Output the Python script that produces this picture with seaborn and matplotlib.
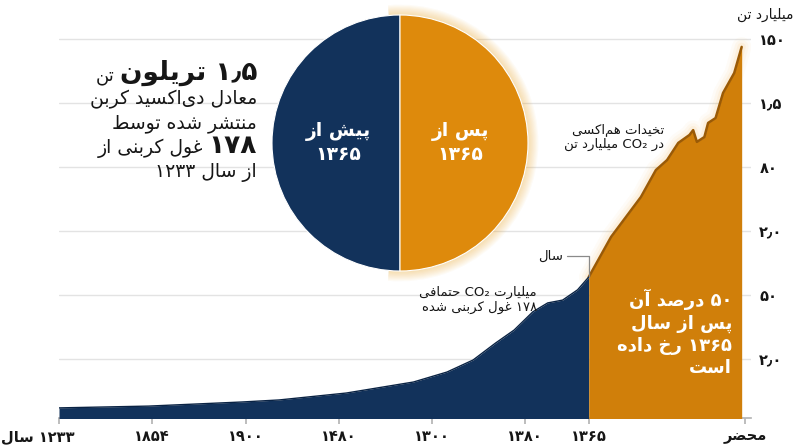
import matplotlib
matplotlib.use("Agg")
import matplotlib.pyplot as plt
import seaborn as sns
import pandas as pd
from matplotlib.patches import Wedge
from matplotlib.transforms import ScaledTranslation

# Data (cumulative CO2, billion tonnes)
years = [1850, 1874, 1899, 1909, 1927, 1945, 1954, 1961, 1967, 1972, 1977, 1981, 1985,
         1989, 1992, 1998, 2006, 2010, 2013, 2016, 2019, 2020, 2021, 2023, 2024, 2026,
         2028, 2031, 2033]
emissions = [59, 66, 82, 90, 117, 160, 199, 246, 312, 363, 434, 469, 480,
             520, 570, 727, 883, 988, 1027, 1094, 1125, 1144, 1098, 1117, 1172, 1191,
             1289, 1367, 1469]
split_year = 1992

x_ticks = [1850, 1875, 1900, 1925, 1950, 1975, 1992, 2034]
x_labels = ["۱۲۳۳ سال", "۱۸۵۴", "۱۹۰۰", "۱۴۸۰", "۱۳۰۰", "۱۳۸۰", "۱۳۶۵", "محضر"]
y_ticks = [250, 500, 750, 1000, 1250, 1500]
y_labels = ["۲٫۰", "۵۰", "۲٫۰", "۸۰", "۱٫۵", "۱۵۰"]

pie_shares = [50, 50]
pie_labels = ["پیش از\n۱۳۶۵", "پس از\n۱۳۶۵"]

# Colours
navy = "#12325b"
orange = "#d07f0a"
circle_orange = "#de8a0c"
glow = "#f5a623"
edge = "#9a5a06"
ink = "#161616"

# --- tiny Persian shaper + bidi (matplotlib has no complex text layout) ---
DUAL = {"ب": 0xFE8F, "پ": 0xFB56, "ت": 0xFE95, "ث": 0xFE99, "ج": 0xFE9D, "چ": 0xFB7A,
        "ح": 0xFEA1, "خ": 0xFEA5, "س": 0xFEB1, "ش": 0xFEB5, "ص": 0xFEB9, "ض": 0xFEBD,
        "ط": 0xFEC1, "ظ": 0xFEC5, "ع": 0xFEC9, "غ": 0xFECD, "ف": 0xFED1, "ق": 0xFED5,
        "ک": 0xFB8E, "گ": 0xFB92, "ل": 0xFEDD, "م": 0xFEE1, "ن": 0xFEE5, "ه": 0xFEE9,
        "ی": 0xFBFC}
RIGHT = {"ا": 0xFE8D, "آ": 0xFE81, "د": 0xFEA9, "ذ": 0xFEAB, "ر": 0xFEAD, "ز": 0xFEAF,
         "ژ": 0xFB8A, "و": 0xFEED}
FORMS = {**DUAL, **RIGHT}


def shape(text):
    out = []
    for i, c in enumerate(text):
        if c == "\u200c":
            continue
        if c not in FORMS:
            out.append(c)
            continue
        prev = text[i - 1] if i > 0 else ""
        nxt = text[i + 1] if i + 1 < len(text) else ""
        p = prev in DUAL
        n = c in DUAL and nxt in FORMS
        k = 3 if (p and n) else 1 if p else 2 if n else 0
        out.append(chr(FORMS[c] + k))
    return "".join(out)


def is_ltr(ch):
    return (ch.isascii() and ch.isalnum()) or ("\u06f0" <= ch <= "\u06f9") or ch in "₂٫"


def fa_line(text):
    runs = []
    for ch in shape(text):
        l = is_ltr(ch)
        if runs and runs[-1][0] == l:
            runs[-1][1] += ch
        else:
            runs.append([l, ch])
    return "".join(r[1] if r[0] else r[1][::-1] for r in reversed(runs))


def fa(text):
    return "\n".join(fa_line(t) for t in text.split("\n"))


# --- figure ---
sns.set_theme(style="white")
plt.rcParams["font.family"] = ["DejaVu Sans"]

W, H = 800, 447
fig = plt.figure(figsize=(8, 4.47), dpi=100)
ax = fig.add_axes([59 / W, 1 - 418 / H, (751 - 59) / W, (418 - 30) / H])
ax.set_xlim(1850, 2035.5)
ax.set_ylim(19.5, 1535)

df = pd.DataFrame({"year": years, "value": emissions})
before = df[df["year"] <= split_year]
after = df[df["year"] >= split_year]

ax.fill_between(before["year"], before["value"], 0, color=navy, lw=0, zorder=3)
for w, a in [(14, 0.035), (10, 0.05), (6, 0.08)]:
    ax.plot(after["year"], after["value"], color=glow, lw=w, alpha=a,
            solid_capstyle="round", zorder=2)
ax.fill_between(after["year"], after["value"], 0, color=orange, lw=0, zorder=3)
sns.lineplot(data=after, x="year", y="value", ax=ax, color=edge, lw=1.8, zorder=4)
sns.lineplot(data=before, x="year", y="value", ax=ax, color="#0a2344", lw=1.0, zorder=4)
ax.set_xlabel("")
ax.set_ylabel("")

ax.yaxis.grid(True, color="#e3e3e3", lw=1)
ax.xaxis.grid(False)
ax.set_axisbelow(True)
for s in ["left", "top", "right"]:
    ax.spines[s].set_visible(False)
ax.spines["bottom"].set_color("#b5b5b5")

ax.set_xticks(x_ticks)
ax.set_xticklabels([fa(t) for t in x_labels], fontsize=10.5, fontweight="bold", color=ink)
ax.tick_params(axis="x", bottom=True, length=4, color="#b5b5b5", pad=4)
first = ax.get_xticklabels()[0]
first.set_ha("right")
first.set_transform(first.get_transform() + ScaledTranslation(0.16, 0, fig.dpi_scale_trans))

ax.yaxis.tick_right()
ax.set_yticks(y_ticks)
ax.set_yticklabels([fa(t) for t in y_labels], fontsize=10.5, fontweight="bold", color=ink)
ax.tick_params(axis="y", right=False, length=0, pad=6)

fig.text(765 / W, 1 - 15 / H, fa("میلیارد تن"), fontsize=10, ha="center", va="center", color=ink)

# annotations inside the plot
fig.text(664 / W, 1 - 137 / H, fa("تخیدات هم‌اکسی\nدر CO₂ میلیارد تن"), fontsize=9.5,
         ha="right", va="center", multialignment="right", color=ink, linespacing=1.2)
fig.text(537 / W, 1 - 300 / H, fa("میلیارت CO₂ حتمافی\n۱۷۸ غول کربنی شده"), fontsize=9.5,
         ha="right", va="center", multialignment="right", color=ink, linespacing=1.2)
fig.text(563 / W, 1 - 256 / H, fa("سال"), fontsize=9.5, ha="right", va="center", color=ink)
ax.plot([1986.2, split_year, split_year], [652, 652, 572], color="#8a8a8a", lw=0.9, zorder=5)
fig.text(732 / W, 1 - 333 / H, fa("۵۰ درصد آن\nپس از سال\n۱۳۶۵ رخ داده\nاست"), fontsize=13,
         fontweight="bold", ha="right", va="center", multialignment="right", color="white",
         linespacing=1.3)

# headline text block on the left
renderer = fig.canvas.get_renderer()


def rtl_line(pieces, x_right, y_base):
    x = x_right
    for txt, size, weight in pieces:
        t = fig.text(x / W, 1 - y_base / H, fa(txt), fontsize=size, fontweight=weight,
                     ha="right", va="baseline", color=ink)
        x -= t.get_window_extent(renderer).width + 5


rtl_line([("۱٫۵ تریلون", 19, "bold"), ("تن", 13, "normal")], 257, 80)
rtl_line([("معادل دی‌اکسید کربن", 13.5, "normal")], 257, 104)
rtl_line([("منتشر شده توسط", 13.5, "normal")], 257, 128)
rtl_line([("۱۷۸", 19, "bold"), ("غول کربنی از", 13.5, "normal")], 257, 153)
rtl_line([("از سال ۱۲۳۳", 13.5, "normal")], 257, 177)

# the 50/50 circle
R = 128
pax = fig.add_axes([(400 - 150) / W, 1 - (143 + 150) / H, 300 / W, 300 / H])
for i in range(9):
    pax.add_patch(Wedge((0, 0), 1 + 0.009 * (i + 1), -95, 95, color=glow, alpha=0.045,
                        lw=0, clip_on=False))
pax.pie(pie_shares, colors=[navy, circle_orange], startangle=90, counterclock=True, radius=1,
        wedgeprops=dict(edgecolor="white", linewidth=0.8))
pax.set_xlim(-150 / R, 150 / R)
pax.set_ylim(-150 / R, 150 / R)
pax.set_aspect("equal")
pax.axis("off")
pax.text(-0.48, 0, fa(pie_labels[0]), ha="center", va="center", color="white",
         fontsize=13.5, fontweight="bold", linespacing=1.25)
pax.text(0.47, 0, fa(pie_labels[1]), ha="center", va="center", color="white",
         fontsize=13.5, fontweight="bold", linespacing=1.25)

fig.savefig("out.png", dpi=100, facecolor="white")
